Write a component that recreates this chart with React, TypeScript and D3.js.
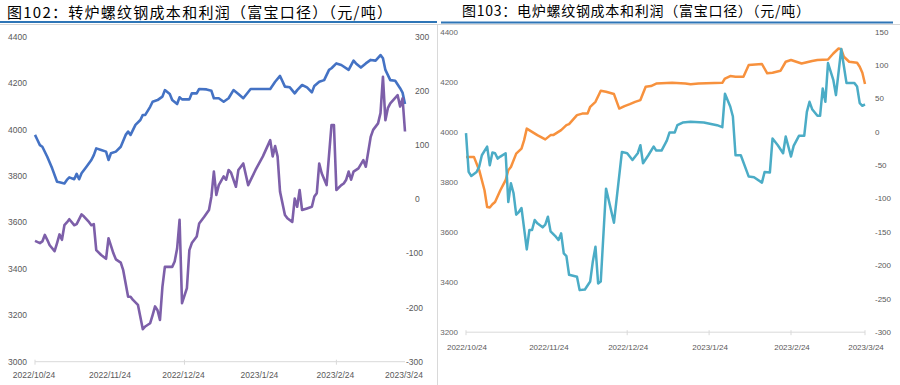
import React from 'react';
import * as d3 from 'd3';

// ---------- Data ----------
const tickDates = ['2022-10-24', '2022-11-24', '2022-12-24', '2023-01-24', '2023-02-24', '2023-03-24'];
const tickLabels = ['2022/10/24', '2022/11/24', '2022/12/24', '2023/1/24', '2023/2/24', '2023/3/24'];

const leftTitle = '图102：转炉螺纹钢成本和利润（富宝口径）（元/吨）';
const rightTitle = '图103：电炉螺纹钢成本和利润（富宝口径）（元/吨）';

const bofCostTicks = [3000, 3200, 3400, 3600, 3800, 4000, 4200, 4400];
const bofProfitTicks = [-300, -200, -100, 0, 100, 200, 300];
const eafCostTicks = [3200, 3400, 3600, 3800, 4000, 4200, 4400];
const eafProfitTicks = [-300, -250, -200, -150, -100, -50, 0, 50, 100, 150];

// 转炉成本 (left axis)
const bofCost: [string, number][] = [
  ['2022-10-24', 3977], ['2022-10-25', 3955], ['2022-10-26', 3933], ['2022-10-27', 3926], ['2022-10-29', 3883],
  ['2022-10-31', 3833], ['2022-11-02', 3775], ['2022-11-03', 3773], ['2022-11-05', 3768], ['2022-11-06', 3783],
  ['2022-11-07', 3794], ['2022-11-09', 3786], ['2022-11-10', 3809], ['2022-11-11', 3786], ['2022-11-12', 3812],
  ['2022-11-14', 3840], ['2022-11-16', 3869], ['2022-11-17', 3890], ['2022-11-18', 3919], ['2022-11-20', 3912],
  ['2022-11-22', 3905], ['2022-11-23', 3869], ['2022-11-24', 3898], ['2022-11-26', 3905], ['2022-11-28', 3926],
  ['2022-11-30', 3977], ['2022-12-01', 3991], ['2022-12-02', 3977], ['2022-12-04', 4020], ['2022-12-06', 4041],
  ['2022-12-07', 4063], ['2022-12-08', 4063], ['2022-12-10', 4098], ['2022-12-11', 4120], ['2022-12-13', 4127],
  ['2022-12-15', 4142], ['2022-12-16', 4170], ['2022-12-18', 4153], ['2022-12-19', 4127], ['2022-12-21', 4110],
  ['2022-12-22', 4139], ['2022-12-23', 4130], ['2022-12-26', 4130], ['2022-12-27', 4156], ['2022-12-29', 4156],
  ['2022-12-30', 4175], ['2023-01-02', 4173], ['2023-01-04', 4167], ['2023-01-05', 4135], ['2023-01-07', 4135],
  ['2023-01-09', 4120], ['2023-01-11', 4135], ['2023-01-13', 4170], ['2023-01-15', 4153], ['2023-01-17', 4135],
  ['2023-01-20', 4175], ['2023-01-28', 4175], ['2023-01-30', 4206], ['2023-02-01', 4231], ['2023-02-03', 4185],
  ['2023-02-05', 4182], ['2023-02-07', 4156], ['2023-02-08', 4170], ['2023-02-10', 4192], ['2023-02-12', 4182],
  ['2023-02-14', 4160], ['2023-02-15', 4188], ['2023-02-17', 4206], ['2023-02-19', 4213], ['2023-02-21', 4257],
  ['2023-02-22', 4264], ['2023-02-24', 4285], ['2023-02-26', 4278], ['2023-03-01', 4257], ['2023-03-03', 4297],
  ['2023-03-04', 4285], ['2023-03-06', 4267], ['2023-03-08', 4285], ['2023-03-10', 4300], ['2023-03-12', 4297],
  ['2023-03-14', 4321], ['2023-03-15', 4307], ['2023-03-16', 4257], ['2023-03-18', 4213], ['2023-03-20', 4210],
  ['2023-03-22', 4178], ['2023-03-23', 4159], ['2023-03-24', 4110],
];

// 转炉利润 (right axis)
const bofProfit: [string, number][] = [
  ['2022-10-24', -77], ['2022-10-26', -81], ['2022-10-27', -78], ['2022-10-28', -66], ['2022-10-29', -75],
  ['2022-10-30', -85], ['2022-11-01', -96], ['2022-11-02', -81], ['2022-11-03', -65], ['2022-11-04', -75],
  ['2022-11-05', -48], ['2022-11-06', -43], ['2022-11-07', -37], ['2022-11-09', -48], ['2022-11-10', -46],
  ['2022-11-12', -28], ['2022-11-13', -32], ['2022-11-15', -42], ['2022-11-16', -48], ['2022-11-17', -46],
  ['2022-11-18', -94], ['2022-11-20', -103], ['2022-11-22', -110], ['2022-11-23', -72], ['2022-11-25', -100],
  ['2022-11-26', -111], ['2022-11-28', -117], ['2022-11-29', -131], ['2022-12-01', -180], ['2022-12-02', -180],
  ['2022-12-03', -186], ['2022-12-05', -195], ['2022-12-07', -240], ['2022-12-08', -235], ['2022-12-10', -229],
  ['2022-12-11', -214], ['2022-12-12', -198], ['2022-12-13', -205], ['2022-12-14', -223], ['2022-12-15', -162],
  ['2022-12-16', -125], ['2022-12-19', -125], ['2022-12-20', -115], ['2022-12-21', -91], ['2022-12-22', -38],
  ['2022-12-23', -192], ['2022-12-25', -164], ['2022-12-26', -94], ['2022-12-27', -81], ['2022-12-29', -69],
  ['2022-12-30', -45], ['2023-01-01', -33], ['2023-01-03', -20], ['2023-01-04', 5], ['2023-01-05', 51],
  ['2023-01-06', 8], ['2023-01-07', 26], ['2023-01-09', 42], ['2023-01-10', 36], ['2023-01-11', 54],
  ['2023-01-12', 49], ['2023-01-14', 23], ['2023-01-15', 54], ['2023-01-17', 66], ['2023-01-19', 26],
  ['2023-01-22', 54], ['2023-01-25', 79], ['2023-01-28', 109], ['2023-01-29', 79], ['2023-01-30', 98],
  ['2023-01-31', 79], ['2023-02-01', 14], ['2023-02-03', -29], ['2023-02-04', -35], ['2023-02-06', -42],
  ['2023-02-07', 1], ['2023-02-08', -14], ['2023-02-09', 17], ['2023-02-10', -20], ['2023-02-12', -17],
  ['2023-02-14', -14], ['2023-02-15', 5], ['2023-02-16', 11], ['2023-02-17', 66], ['2023-02-18', 48],
  ['2023-02-20', 26], ['2023-02-22', 137], ['2023-02-23', 137], ['2023-02-24', 17], ['2023-02-26', 26],
  ['2023-02-27', 29], ['2023-02-28', 36], ['2023-03-01', 51], ['2023-03-02', 36], ['2023-03-03', 51],
  ['2023-03-05', 57], ['2023-03-07', 72], ['2023-03-08', 60], ['2023-03-10', 115], ['2023-03-11', 128],
  ['2023-03-13', 140], ['2023-03-14', 159], ['2023-03-15', 226], ['2023-03-16', 146], ['2023-03-17', 168],
  ['2023-03-18', 177], ['2023-03-21', 192], ['2023-03-22', 171], ['2023-03-23', 186], ['2023-03-24', 125],
];

// 电炉成本 (left axis)
const eafCost: [string, number][] = [
  ['2022-10-24', 3900], ['2022-10-27', 3900], ['2022-10-29', 3847], ['2022-10-31', 3767], ['2022-11-01', 3700],
  ['2022-11-02', 3698], ['2022-11-03', 3711], ['2022-11-04', 3720], ['2022-11-06', 3767], ['2022-11-07', 3787],
  ['2022-11-08', 3807], ['2022-11-09', 3847], ['2022-11-10', 3860], ['2022-11-12', 3913], ['2022-11-14', 3933],
  ['2022-11-15', 3967], ['2022-11-16', 4013], ['2022-11-18', 4000], ['2022-11-20', 3987], ['2022-11-23', 3970],
  ['2022-11-25', 3987], ['2022-11-26', 3987], ['2022-11-29', 4007], ['2022-12-01', 4027], ['2022-12-02', 4031],
  ['2022-12-05', 4067], ['2022-12-07', 4073], ['2022-12-09', 4073], ['2022-12-10', 4100], ['2022-12-12', 4120],
  ['2022-12-14', 4164], ['2022-12-16', 4160], ['2022-12-19', 4151], ['2022-12-21', 4093], ['2022-12-23', 4103],
  ['2022-12-25', 4111], ['2022-12-27', 4120], ['2022-12-29', 4127], ['2022-12-31', 4180], ['2023-01-02', 4183],
  ['2023-01-04', 4193], ['2023-01-10', 4196], ['2023-01-15', 4193], ['2023-01-17', 4190], ['2023-01-20', 4193],
  ['2023-01-29', 4196], ['2023-01-30', 4213], ['2023-02-01', 4223], ['2023-02-03', 4220], ['2023-02-06', 4220],
  ['2023-02-08', 4267], ['2023-02-13', 4271], ['2023-02-15', 4234], ['2023-02-17', 4236], ['2023-02-20', 4244],
  ['2023-02-22', 4280], ['2023-02-24', 4287], ['2023-02-28', 4273], ['2023-03-04', 4283], ['2023-03-06', 4287],
  ['2023-03-10', 4289], ['2023-03-12', 4313], ['2023-03-14', 4333], ['2023-03-15', 4330], ['2023-03-16', 4300],
  ['2023-03-18', 4280], ['2023-03-21', 4276], ['2023-03-22', 4260], ['2023-03-23', 4236], ['2023-03-24', 4191],
];

// 电炉利润 (right axis)
const eafProfit: [string, number][] = [
  ['2022-10-24', -2], ['2022-10-25', -60], ['2022-10-26', -66], ['2022-10-28', -60], ['2022-10-29', -52],
  ['2022-10-30', -35], ['2022-11-01', -22], ['2022-11-02', -50], ['2022-11-03', -31], ['2022-11-04', -32],
  ['2022-11-05', -40], ['2022-11-06', -37], ['2022-11-08', -32], ['2022-11-09', -105], ['2022-11-10', -77],
  ['2022-11-11', -92], ['2022-11-12', -124], ['2022-11-13', -120], ['2022-11-14', -114], ['2022-11-16', -176],
  ['2022-11-17', -147], ['2022-11-18', -147], ['2022-11-19', -132], ['2022-11-20', -137], ['2022-11-22', -143],
  ['2022-11-23', -139], ['2022-11-24', -127], ['2022-11-25', -149], ['2022-11-27', -157], ['2022-11-28', -162],
  ['2022-11-29', -152], ['2022-11-30', -182], ['2022-12-01', -186], ['2022-12-02', -214], ['2022-12-05', -217],
  ['2022-12-06', -237], ['2022-12-08', -236], ['2022-12-10', -224], ['2022-12-11', -194], ['2022-12-12', -172],
  ['2022-12-13', -227], ['2022-12-14', -224], ['2022-12-16', -85], ['2022-12-19', -136], ['2022-12-22', -30],
  ['2022-12-24', -32], ['2022-12-26', -42], ['2022-12-28', -32], ['2022-12-29', -20], ['2022-12-30', -47],
  ['2023-01-01', -35], ['2023-01-03', -22], ['2023-01-04', -28], ['2023-01-06', -28], ['2023-01-08', -13],
  ['2023-01-09', -1], ['2023-01-11', -1], ['2023-01-12', 10], ['2023-01-14', 14], ['2023-01-17', 15],
  ['2023-01-22', 14], ['2023-01-27', 10], ['2023-01-29', 7], ['2023-01-30', 57], ['2023-02-01', 38],
  ['2023-02-02', 23], ['2023-02-03', -35], ['2023-02-05', -35], ['2023-02-08', -67], ['2023-02-10', -68],
  ['2023-02-13', -76], ['2023-02-14', -60], ['2023-02-16', -61], ['2023-02-17', -10], ['2023-02-19', -20],
  ['2023-02-21', -32], ['2023-02-22', -7], ['2023-02-24', -37], ['2023-02-25', -21], ['2023-02-27', -6],
  ['2023-03-01', -6], ['2023-03-02', 30], ['2023-03-03', 45], ['2023-03-04', 34], ['2023-03-06', 24],
  ['2023-03-07', 24], ['2023-03-08', 65], ['2023-03-09', 45], ['2023-03-10', 103], ['2023-03-12', 78],
  ['2023-03-13', 55], ['2023-03-15', 124], ['2023-03-17', 73], ['2023-03-20', 73], ['2023-03-21', 68],
  ['2023-03-22', 43], ['2023-03-23', 39], ['2023-03-24', 41],
];

// ---------- Rendering ----------
const parse = d3.timeParse('%Y-%m-%d');
const FONT = '"Liberation Sans", Arial, sans-serif';
const CJK = '"Noto Sans CJK SC", sans-serif';
const TXT = '#595959';

type Pt = [string, number];

function linePath(data: Pt[], x: d3.ScaleTime<number, number>, y: d3.ScaleLinear<number, number>) {
  const gen = d3
    .line<Pt>()
    .x((d) => x(parse(d[0]) as Date))
    .y((d) => y(d[1]));
  return gen(data) || '';
}

export default function App() {
  const domain = [parse(tickDates[0]) as Date, parse(tickDates[tickDates.length - 1]) as Date];

  // Left chart scales
  const xL = d3.scaleTime().domain(domain).range([35, 405]);
  const yL1 = d3.scaleLinear().domain([3000, 4400]).range([361.7, 36.7]);
  const yL2 = d3.scaleLinear().domain([-300, 300]).range([361.7, 36.7]);

  // Right chart scales
  const xR = d3.scaleTime().domain(domain).range([466, 865]);
  const yR1 = d3.scaleLinear().domain([3200, 4400]).range([332.2, 31.7]);
  const yR2 = d3.scaleLinear().domain([-300, 150]).range([332.2, 31.7]);

  const leftTickMarks = [0, 2, 4];
  const rightTickMarks = [0, 2, 3, 4, 5];

  return (
    <svg
      width={900}
      height={385}
      style={{ position: 'absolute', left: 0, top: 0, background: '#fff' }}
      xmlns="http://www.w3.org/2000/svg"
    >
      <rect x={0} y={0} width={900} height={385} fill="#fff" />

      {/* Titles */}
      <text x={7} y={17.5} fontFamily={CJK} fontSize={15} fill="#000" textLength={385} lengthAdjust="spacing">
        {leftTitle}
      </text>
      <text x={462} y={16} fontFamily={CJK} fontSize={14} fill="#000" textLength={348} lengthAdjust="spacing">
        {rightTitle}
      </text>

      {/* Title underlines and panel frame */}
      <line x1={0} x2={437} y1={22} y2={22} stroke="#2e75b6" strokeWidth={2} />
      <line x1={441} x2={893} y1={22.5} y2={22.5} stroke="#2e75b6" strokeWidth={2} />
      <line x1={0} x2={900} y1={24.5} y2={24.5} stroke="#d6d6d6" strokeWidth={1} />
      <line x1={437.5} x2={437.5} y1={24.5} y2={385} stroke="#d9d9d9" strokeWidth={1} />

      {/* ---------- Left chart ---------- */}
      <line x1={xL.range()[0]} x2={xL.range()[1]} y1={yL1(3000)} y2={yL1(3000)} stroke="#d9d9d9" strokeWidth={1} />
      {leftTickMarks.map((i) => {
        const x = xL(parse(tickDates[i]) as Date);
        return <line key={'ltm' + i} x1={x} x2={x} y1={yL1(3000) - 2} y2={yL1(3000) + 3} stroke="#d9d9d9" />;
      })}
      {tickDates.map((d, i) => (
        <text key={'lx' + i} x={xL(parse(d) as Date) - 1} y={378} textAnchor="middle" fontFamily={FONT} fontSize={8.5} fill={TXT}>
          {tickLabels[i]}
        </text>
      ))}
      {bofCostTicks.map((v) => (
        <text key={'ly1' + v} x={27} y={yL1(v)} dy="0.35em" textAnchor="end" fontFamily={FONT} fontSize={8.5} fill={TXT}>
          {v}
        </text>
      ))}
      {bofProfitTicks.map((v) => (
        <text key={'ly2' + v} x={v < 0 ? 406 : 415} y={yL2(v)} dy="0.35em" textAnchor="start" fontFamily={FONT} fontSize={8.5} fill={TXT}>
          {v}
        </text>
      ))}
      <path d={linePath(bofCost, xL, yL1)} fill="none" stroke="#4472C4" strokeWidth={2.6} strokeLinejoin="round" />
      <path d={linePath(bofProfit, xL, yL2)} fill="none" stroke="#7D5FA9" strokeWidth={2.6} strokeLinejoin="round" />

      {/* ---------- Right chart ---------- */}
      <line x1={xR.range()[0]} x2={xR.range()[1]} y1={yR1(3200)} y2={yR1(3200)} stroke="#d9d9d9" strokeWidth={1} />
      {rightTickMarks.map((i) => {
        const x = xR(parse(tickDates[i]) as Date);
        return <line key={'rtm' + i} x1={x} x2={x} y1={yR1(3200) - 2} y2={yR1(3200) + 3} stroke="#d9d9d9" />;
      })}
      {tickDates.map((d, i) => (
        <text key={'rx' + i} x={xR(parse(d) as Date) + 1} y={350} textAnchor="middle" fontFamily={FONT} fontSize={8} fill={TXT}>
          {tickLabels[i]}
        </text>
      ))}
      {eafCostTicks.map((v) => (
        <text key={'ry1' + v} x={458} y={yR1(v)} dy="0.35em" textAnchor="end" fontFamily={FONT} fontSize={8} fill="#666">
          {v}
        </text>
      ))}
      {eafProfitTicks.map((v) => (
        <text key={'ry2' + v} x={875} y={yR2(v)} dy="0.35em" textAnchor="start" fontFamily={FONT} fontSize={8} fill={TXT}>
          {v}
        </text>
      ))}
      <path d={linePath(eafCost, xR, yR1)} fill="none" stroke="#F7913D" strokeWidth={2.5} strokeLinejoin="round" />
      <path d={linePath(eafProfit, xR, yR2)} fill="none" stroke="#4BACC6" strokeWidth={2.5} strokeLinejoin="round" />
    </svg>
  );
}
